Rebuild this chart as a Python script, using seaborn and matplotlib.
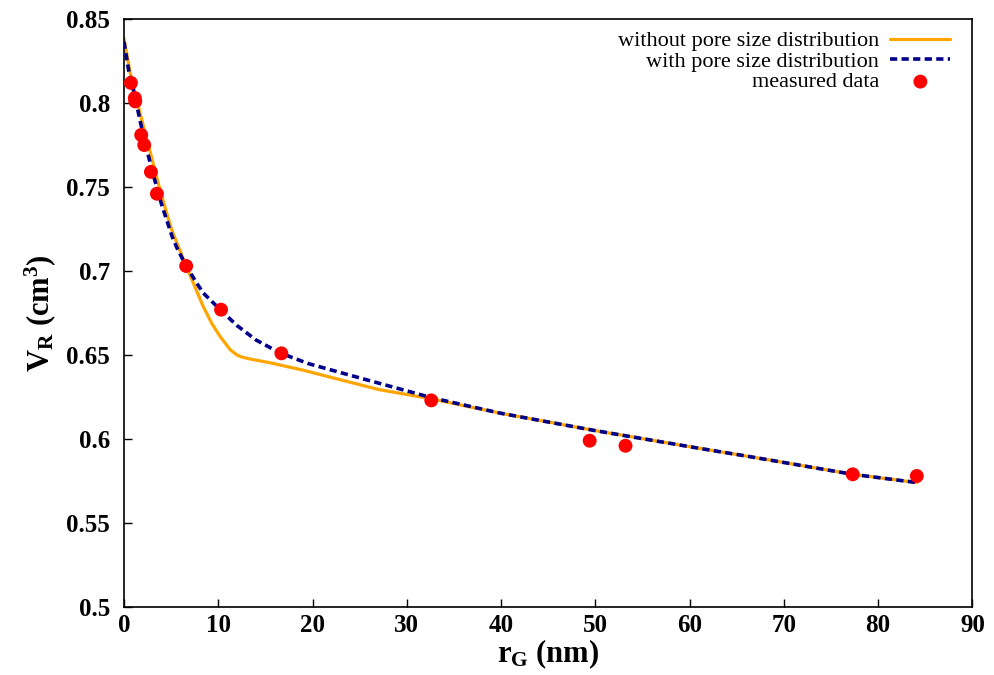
import matplotlib
matplotlib.use("Agg")
import matplotlib.pyplot as plt
import seaborn as sns
import pandas as pd

# measured data
x_meas = [0.74, 1.15, 1.2, 1.83, 2.15, 2.86, 3.5, 6.6, 10.3, 16.7, 32.6, 49.4, 53.2, 77.3, 84.1]
y_meas = [0.812, 0.803, 0.801, 0.781, 0.775, 0.759, 0.746, 0.703, 0.677, 0.651, 0.623, 0.599, 0.596, 0.579, 0.578]

# without pore size distribution
x_without = [0, 0.67, 1.2, 1.8, 2.3, 2.8, 3.67, 4.5, 5.1, 5.9, 6.6, 7.5, 8.4, 9.3, 10.2,
             11.3, 12.0, 12.5, 13.5, 15.5, 19.0, 22.6, 27.0, 32.7, 40.0, 50.0, 61.0, 66.4, 77.3, 84.1]
y_without = [0.8385, 0.8177, 0.805, 0.792, 0.781, 0.7705, 0.7515, 0.735, 0.724, 0.7127, 0.703, 0.691,
             0.679, 0.669, 0.661, 0.653, 0.650, 0.6488, 0.6475, 0.6454, 0.641, 0.6358, 0.6295, 0.6238,
             0.6153, 0.6050, 0.5945, 0.5895, 0.5790, 0.5741]

# with pore size distribution
x_with = [0, 0.49, 1.2, 1.73, 2.26, 2.8, 3.3, 4.0, 5.1, 5.6, 6.6, 7.7, 8.4, 10.3, 12.0, 14.0,
          16.5, 19.5, 23.0, 27.0, 32.7, 40.0, 50.0, 61.0, 66.4, 77.3, 84.1]
y_with = [0.8365, 0.8197, 0.803, 0.789, 0.776, 0.764, 0.7535, 0.7395, 0.7207, 0.714, 0.703, 0.693,
          0.687, 0.6765, 0.6675, 0.659, 0.6514, 0.645, 0.6395, 0.6333, 0.6245, 0.6153, 0.6050,
          0.5945, 0.5895, 0.5790, 0.5741]

x_ticks = [0, 10, 20, 30, 40, 50, 60, 70, 80, 90]
y_ticks = [0.5, 0.55, 0.6, 0.65, 0.7, 0.75, 0.8, 0.85]
y_ticklabels = ["0.5", "0.55", "0.6", "0.65", "0.7", "0.75", "0.8", "0.85"]

sns.set_style("ticks")
plt.rcParams["font.family"] = ["Liberation Serif", "DejaVu Sans"]
plt.rcParams["text.color"] = "black"
plt.rcParams["axes.labelcolor"] = "black"
plt.rcParams["xtick.color"] = "black"
plt.rcParams["ytick.color"] = "black"
plt.rcParams["mathtext.fontset"] = "custom"
plt.rcParams["mathtext.rm"] = "Liberation Serif:bold"
plt.rcParams["mathtext.it"] = "Liberation Serif:bold"
plt.rcParams["mathtext.bf"] = "Liberation Serif:bold"

fig = plt.figure(figsize=(9.94, 6.75), dpi=100)
ax = fig.add_axes([0.1247, 0.1007, 0.8536, 0.8711])

df_wo = pd.DataFrame({"x": x_without, "y": y_without})
df_w = pd.DataFrame({"x": x_with, "y": y_with})
df_m = pd.DataFrame({"x": x_meas, "y": y_meas})

sns.lineplot(data=df_wo, x="x", y="y", ax=ax, color="#ffa500", lw=2.3, sort=False,
             label="without pore size distribution", zorder=2)
sns.lineplot(data=df_w, x="x", y="y", ax=ax, color="#00008b", lw=2.6, sort=False,
             dashes=False, label="with pore size distribution", zorder=3)
ax.lines[-1].set_dashes((2.0, 1.2))
sns.scatterplot(data=df_m, x="x", y="y", ax=ax, color="#ff0000", s=100, edgecolor="none",
                label="measured data", zorder=4)

ax.set_xlim(0, 90)
ax.set_ylim(0.5, 0.85)
ax.set_xticks(x_ticks)
ax.set_xticklabels([str(t) for t in x_ticks])
ax.set_yticks(y_ticks)
ax.set_yticklabels(y_ticklabels)
for lab in ax.get_xticklabels() + ax.get_yticklabels():
    lab.set_fontweight("bold")
    lab.set_fontsize(18)
    lab.set_color("black")
ax.tick_params(axis="both", which="major", direction="in", length=6, width=1,
               color="black", bottom=True, left=True, top=False, right=False)
ax.tick_params(axis="x", pad=5)
ax.tick_params(axis="y", pad=10)
for sp in ax.spines.values():
    sp.set_linewidth(1.2)
    sp.set_color("black")
    sp.set_visible(True)

ax.set_xlabel(r"$\mathrm{r_G}$ (nm)", fontsize=22, fontweight="bold", labelpad=0, color="black")
ax.set_ylabel(r"$\mathrm{V_R}$ (cm$^\mathrm{3}$)", fontsize=22, fontweight="bold", labelpad=6,
              color="black")

leg = ax.legend(loc="upper right", bbox_to_anchor=(0.974, 0.980), frameon=False,
                markerfirst=False, fontsize=16, handlelength=2.7, handletextpad=0.5,
                labelspacing=0.0, borderpad=0, borderaxespad=0)
leg.legend_handles[1].set_dashes((2.0, 1.2))
for t in leg.get_texts():
    t.set_color("black")

fig.savefig("out.png", dpi=100)
